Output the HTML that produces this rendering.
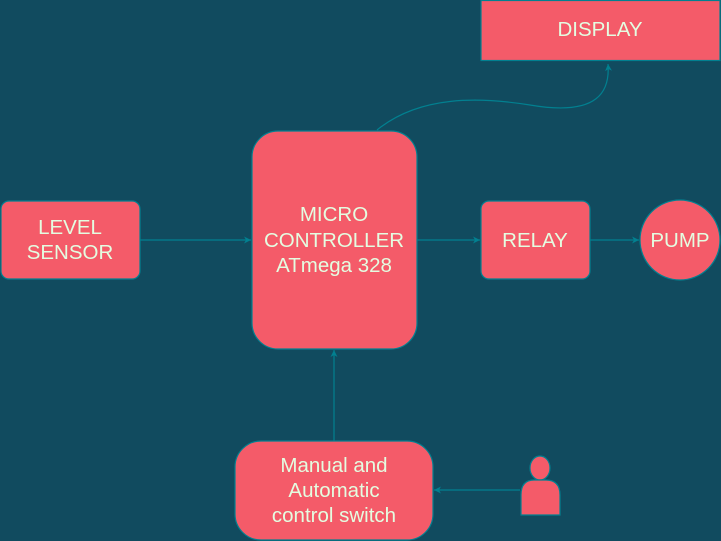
<!DOCTYPE html>
<html><head><style>
body{margin:0;background:#114B5F;}
svg{display:block}
text{font-family:"Liberation Sans",sans-serif;font-size:20.5px;fill:#E4FDE1;text-anchor:middle}
</style></head><body>
<svg width="721" height="541" viewBox="0 0 721 541">
<defs><marker id="a" markerWidth="8" markerHeight="8" refX="7" refY="4" orient="auto" markerUnits="userSpaceOnUse"><path d="M0,0.5 L7,4 L0,7.5 L2,4 Z" fill="#028090"/></marker></defs>
<rect width="721" height="541" fill="#114B5F"/>
<g fill="#F45B69" stroke="#028090" stroke-width="1.2">
<rect x="481" y="0.5" width="239" height="60"/>
<rect x="252" y="131" width="165" height="218" rx="26"/>
<rect x="1" y="201" width="139" height="78" rx="8"/>
<rect x="481" y="201" width="109" height="78" rx="8"/>
<circle cx="680" cy="240" r="40"/>
<rect x="235" y="441" width="198" height="99" rx="26"/>
<ellipse cx="540" cy="468" rx="10" ry="12"/>
<path d="M521,515 L521,495 Q521,480 534,480 L546,480 Q560,480 560,495 L560,515 Z"/>
</g>
<g stroke="#028090" stroke-width="1.2" fill="none" marker-end="url(#a)">
<path d="M140,240 L251,240"/>
<path d="M417,240 L480,240"/>
<path d="M590,240 L639,240"/>
<path d="M334,441 L334,350"/>
<path d="M520,490 L434,490"/>
<path d="M377,130 C420,95 480,97 530,105 C600,117 610,90 608,64"/>
</g>
<text x="600" y="36">DISPLAY</text>
<text x="334" y="221">MICRO</text>
<text x="334" y="247">CONTROLLER</text>
<text x="334" y="272">ATmega 328</text>
<text x="70" y="234">LEVEL</text>
<text x="70" y="259">SENSOR</text>
<text x="535" y="247">RELAY</text>
<text x="680" y="247">PUMP</text>
<text x="334" y="472">Manual and</text>
<text x="334" y="497">Automatic</text>
<text x="334" y="522">control switch</text>
</svg>
</body></html>
